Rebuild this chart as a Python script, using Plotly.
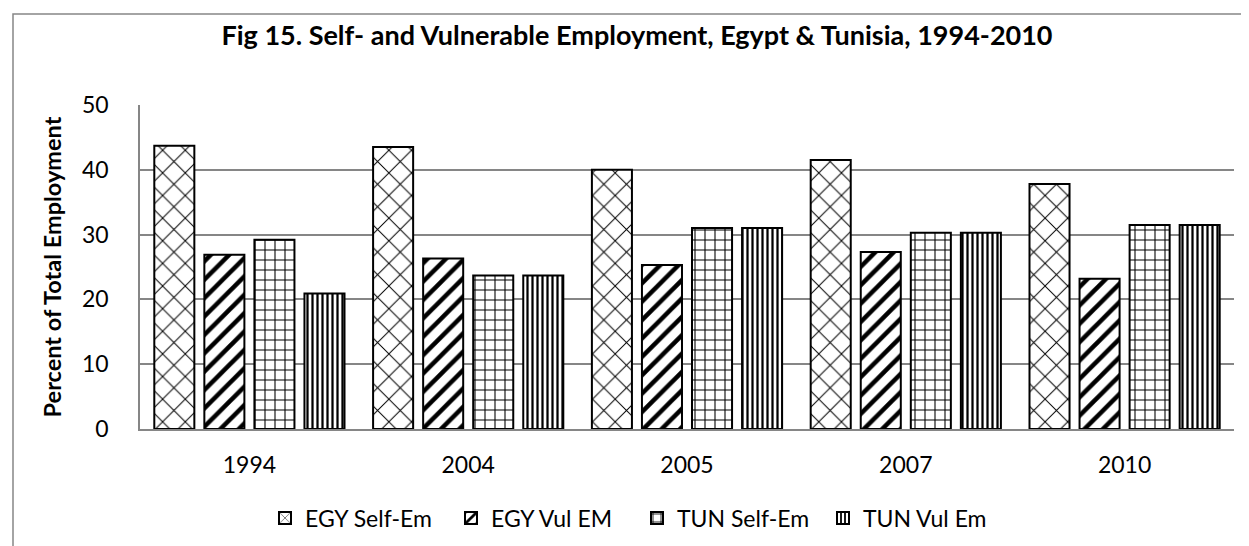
import plotly.graph_objects as go

years = ["1994", "2004", "2005", "2007", "2010"]
egy_self = [43.7, 43.5, 40.0, 41.5, 37.8]
egy_vul = [26.9, 26.3, 25.3, 27.3, 23.2]
tun_self = [29.2, 23.7, 31.0, 30.3, 31.5]
tun_vul = [20.9, 23.7, 31.0, 30.3, 31.5]

series_names = ["EGY Self-Em", "EGY Vul EM", "TUN Self-Em", "TUN Vul Em"]
series_vals = [egy_self, egy_vul, tun_self, tun_vul]
patterns = [
    dict(shape="x", size=16, solidity=0.12),
    dict(shape="/", size=13, solidity=0.35),
    dict(shape="+", size=10, solidity=0.2),
    dict(shape="|", size=5, solidity=0.45),
]

FONT = "Lato"
fig = go.Figure()
for name, vals, pat in zip(series_names, series_vals, patterns):
    fig.add_trace(go.Bar(
        x=years, y=vals, name=name,
        marker=dict(color="white",
                    line=dict(color="black", width=2),
                    pattern=dict(fgcolor="black", bgcolor="white",
                                 fillmode="replace", **pat)),
    ))

W, H = 1249, 546
L, R, T, B = 132, 23, 97, 125
pw, ph = W - L - R, H - T - B

def px_x(p):
    return (p - L) / pw

def px_y(p):
    return (H - B - p) / ph

fig.update_layout(
    width=W, height=H,
    margin=dict(l=L, r=R, t=T, b=B),
    paper_bgcolor="white", plot_bgcolor="white",
    barmode="group", bargap=0.085, bargroupgap=0.2,
    font=dict(family=FONT, color="black", size=22),
    title=dict(text="<b>Fig 15. Self- and Vulnerable Employment, Egypt & Tunisia, 1994-2010</b>",
               x=629 / W, xref="container", xanchor="center",
               y=1 - 28 / H, yref="container", yanchor="middle",
               font=dict(family=FONT, size=27, color="black")),
    legend=dict(orientation="h", x=257 / W, xref="container", xanchor="left",
                y=1 - 510 / H, yref="container", yanchor="middle",
                entrywidth=141, entrywidthmode="pixels",
                font=dict(size=23), itemsizing="constant"),
    showlegend=True,
)
fig.update_yaxes(range=[0, 50], dtick=10, showgrid=True, gridcolor="#868686", gridwidth=1.5,
                 showline=True, linecolor="#868686", linewidth=1.5, ticks="",
                 ticklabelstandoff=25, zeroline=False,
                 tickfont=dict(size=23),
                 title=dict(text="<b>Percent of Total Employment</b>", standoff=14,
                            font=dict(size=23.5)))
fig.update_xaxes(showline=True, linecolor="#868686", linewidth=1.5, ticks="",
                 tickfont=dict(size=23), ticklabelstandoff=15)

fig.add_shape(type="rect", xref="paper", yref="paper",
              x0=px_x(5), x1=px_x(1252), y0=px_y(560), y1=px_y(6),
              line=dict(color="#868686", width=1.5), fillcolor="rgba(0,0,0,0)", layer="below")

fig.write_html("out.html")
